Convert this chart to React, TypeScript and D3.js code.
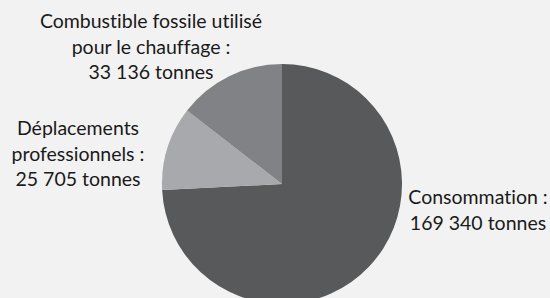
import React from 'react';
import * as d3 from 'd3';

const categories = ['Consommation', 'Déplacements professionnels', 'Combustible fossile utilisé pour le chauffage'];
const values = [169340, 25705, 33136];
const colors = ['#58595b', '#a7a9ac', '#808285'];

// label lines per category
const labelLines = [
  ['Consommation :', '169 340 tonnes'],
  ['Déplacements', 'professionnels :', '25 705 tonnes'],
  ['Combustible fossile utilisé', 'pour le chauffage :', '33 136 tonnes'],
];
const labelPos = [
  { x: 478, y: 204 },
  { x: 78, y: 135 },
  { x: 151, y: 28 },
];

const width = 550;
const height = 298;
const cx = 282;
const cy = 184;
const radius = 120;
const lineH = 25.5;

export default function App() {
  const pie = d3.pie<number>().sort(null).value(d => d);
  const arcs = pie(values);
  const arc = d3.arc<d3.PieArcDatum<number>>().innerRadius(0).outerRadius(radius);

  return (
    <svg width={width} height={height} style={{ position: 'absolute', left: 0, top: 0, background: '#f2f2f2' }}>
      <rect width={width} height={height} fill="#f2f2f2" />
      <g transform={`translate(${cx},${cy})`}>
        {arcs.map((a, i) => (
          <path key={categories[i]} d={arc(a) || ''} fill={colors[i]} />
        ))}
      </g>
      {labelLines.map((lines, i) => (
        <text key={i} textAnchor="middle" fontFamily="Lato, sans-serif" fontSize={19.5} fill="#1a1a1a"
          style={{ fontVariantLigatures: 'none' }}>
          {lines.map((l, j) => (
            <tspan key={j} x={labelPos[i].x} y={labelPos[i].y + j * lineH}>{l}</tspan>
          ))}
        </text>
      ))}
    </svg>
  );
}
